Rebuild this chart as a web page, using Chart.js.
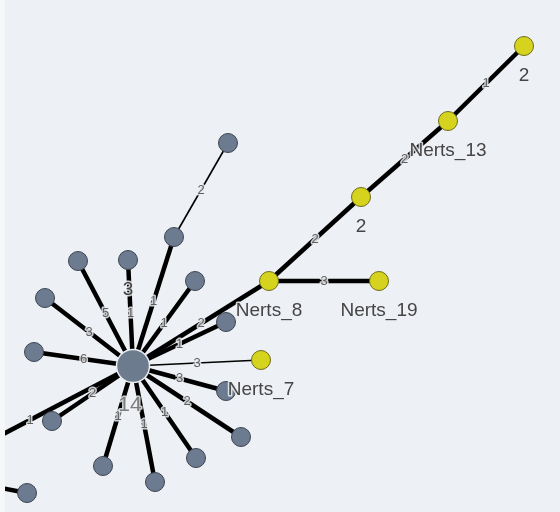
<!DOCTYPE html>
<html>
<head>
<meta charset="utf-8">
<script src="https://cdn.jsdelivr.net/npm/chart.js@4/dist/chart.umd.min.js"></script>
<style>
  html, body { margin: 0; padding: 0; background: #f6f7f9; }
  #wrap { width: 560px; height: 512px; }
</style>
</head>
<body>
<div id="wrap"><canvas id="net"></canvas></div>
<script>
// Minimum spanning tree of isolates: node layout, kinds and labels
const nodeX    = [133,  78, 128, 174, 228, 195,  45,  34, 226, 269, 361, 448, 524, 379, 261, 226, 241, 196, 155, 103,  52, -73,  27];
const nodeY    = [366, 261, 260, 237, 143, 281, 298, 352, 322, 281, 197, 121,  46, 281, 360, 391, 437, 458, 482, 466, 421, 474, 493];
const nodeKind = ['hub','grey','grey','grey','grey','grey','grey','grey','grey','yellow','yellow','yellow','yellow','yellow','yellow','grey','grey','grey','grey','grey','grey','grey','grey'];
const nodeText = ['14', '', '3', '', '', '', '', '', '', 'Nerts_8', '2', 'Nerts_13', '2', 'Nerts_19', 'Nerts_7', '', '', '', '', '', '', '', ''];

// Edges: endpoints (node index) and allele-difference weights
const edgeFrom   = [0, 0, 0, 3, 0, 0, 0, 0, 0, 9, 10, 11, 9, 0, 0, 0, 0, 0, 0, 0, 0, 21];
const edgeTo     = [1, 2, 3, 4, 5, 6, 7, 8, 9, 10, 11, 12, 13, 14, 15, 16, 17, 18, 19, 20, 21, 22];
const edgeWeight = [5, 1, 1, 2, 1, 3, 6, 1, 2, 2, 2, 1, 3, 3, 3, 2, 1, 1, 1, 2, 1, 1];

// Drawing style
const thinEdges = new Set([3, 13]);
const kindStyle = {
  hub:    { fill: '#6d7b8e', stroke: '#e9ecf1', radius: 16.5, width: 1.5 },
  grey:   { fill: '#6c7b8f', stroke: '#3d4552', radius: 9.5,  width: 1 },
  yellow: { fill: '#d6d31f', stroke: '#6f6c1c', radius: 9.5,  width: 1 }
};
const FONT = '"Liberation Sans", Arial, sans-serif';
const HALO = 'rgba(237,240,244,0.85)';

const edgeSets = edgeFrom.map((s, i) => ({
  type: 'line',
  data: [{ x: nodeX[s], y: nodeY[s] }, { x: nodeX[edgeTo[i]], y: nodeY[edgeTo[i]] }],
  borderColor: '#000000',
  borderWidth: thinEdges.has(i) ? 1.6 : 4.5,
  pointRadius: 0,
  showLine: true,
  fill: false,
  order: 3
}));

const nodeSet = {
  type: 'scatter',
  data: nodeX.map((x, i) => ({ x: x, y: nodeY[i] })),
  pointRadius: ctx => kindStyle[nodeKind[ctx.dataIndex]].radius,
  pointBackgroundColor: ctx => kindStyle[nodeKind[ctx.dataIndex]].fill,
  pointBorderColor: ctx => kindStyle[nodeKind[ctx.dataIndex]].stroke,
  pointBorderWidth: ctx => kindStyle[nodeKind[ctx.dataIndex]].width,
  order: 1
};

// Plot background inside the chart area
const backdrop = {
  id: 'backdrop',
  beforeDraw(chart) {
    const { ctx, chartArea: a } = chart;
    ctx.save();
    ctx.fillStyle = '#edf0f4';
    ctx.fillRect(a.left, a.top, a.right - a.left, a.bottom - a.top);
    ctx.restore();
  }
};

// Weight labels at edge midpoints, and node labels below nodes
const labels = {
  id: 'labels',
  afterDatasetsDraw(chart) {
    const { ctx, chartArea: a } = chart;
    const xs = chart.scales.x, ys = chart.scales.y;
    ctx.save();
    ctx.beginPath();
    ctx.rect(a.left, a.top, a.right - a.left, a.bottom - a.top);
    ctx.clip();
    ctx.textAlign = 'center';
    ctx.textBaseline = 'middle';
    ctx.lineJoin = 'round';

    ctx.font = '13px ' + FONT;
    edgeFrom.forEach((s, i) => {
      const t = edgeTo[i];
      const px = xs.getPixelForValue((nodeX[s] + nodeX[t]) / 2);
      const py = ys.getPixelForValue((nodeY[s] + nodeY[t]) / 2);
      ctx.lineWidth = 3;
      ctx.strokeStyle = HALO;
      ctx.strokeText(String(edgeWeight[i]), px, py);
      ctx.fillStyle = '#5e5e5e';
      ctx.fillText(String(edgeWeight[i]), px, py);
    });

    nodeText.forEach((txt, i) => {
      if (!txt) return;
      const hub = nodeKind[i] === 'hub';
      const px = xs.getPixelForValue(nodeX[i]) - (hub ? 3 : 0);
      const py = ys.getPixelForValue(nodeY[i]) + (hub ? 39 : 30);
      ctx.font = (hub ? '21px ' : '19px ') + FONT;
      ctx.lineWidth = 3;
      ctx.strokeStyle = HALO;
      ctx.strokeText(txt, px, py);
      ctx.fillStyle = hub ? '#7c7c7c' : '#454545';
      ctx.fillText(txt, px, py);
    });
    ctx.restore();
  }
};

new Chart(document.getElementById('net'), {
  data: { datasets: [...edgeSets, nodeSet] },
  options: {
    responsive: true,
    maintainAspectRatio: false,
    animation: false,
    layout: { autoPadding: false, padding: { left: 5, right: 0, top: 0, bottom: 0 } },
    plugins: { legend: { display: false }, tooltip: { enabled: false } },
    events: [],
    scales: {
      x: { type: 'linear', min: 5, max: 560, display: false },
      y: { type: 'linear', min: 0, max: 512, reverse: true, display: false }
    }
  },
  plugins: [backdrop, labels]
});
</script>
</body>
</html>
